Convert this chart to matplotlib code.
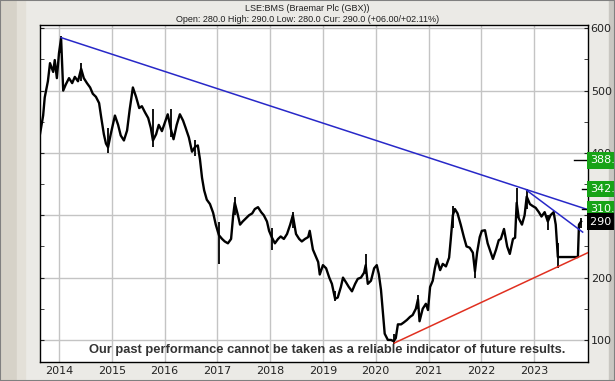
import numpy as np
import matplotlib
matplotlib.use("Agg")
from matplotlib import pyplot as plt
from matplotlib.patches import Rectangle
import matplotlib.transforms as mtransforms

# price path (decimal year, close in GBX)
dates = [2013.64, 2013.70, 2013.73, 2013.79, 2013.83, 2013.89, 2013.92, 2013.96, 2014.00, 2014.04,
         2014.06, 2014.08, 2014.13, 2014.19, 2014.25, 2014.30, 2014.36, 2014.42, 2014.47, 2014.53,
         2014.59, 2014.64, 2014.70, 2014.76, 2014.80, 2014.85, 2014.89, 2014.93, 2014.98, 2015.06,
         2015.12, 2015.17, 2015.23, 2015.29, 2015.34, 2015.40, 2015.46, 2015.52, 2015.57, 2015.63,
         2015.69, 2015.74, 2015.78, 2015.84, 2015.89, 2015.95, 2016.01, 2016.06, 2016.12, 2016.17,
         2016.23, 2016.29, 2016.35, 2016.40, 2016.46, 2016.52, 2016.58, 2016.63, 2016.67, 2016.71,
         2016.75, 2016.80, 2016.86, 2016.92, 2016.97, 2017.03, 2017.09, 2017.14, 2017.20, 2017.26,
         2017.30, 2017.33, 2017.39, 2017.43, 2017.48, 2017.54, 2017.60, 2017.66, 2017.71, 2017.77,
         2017.83, 2017.88, 2017.94, 2017.98, 2018.03, 2018.09, 2018.15, 2018.20, 2018.26, 2018.32,
         2018.38, 2018.43, 2018.49, 2018.55, 2018.60, 2018.66, 2018.72, 2018.75, 2018.81, 2018.87,
         2018.91, 2018.94, 2019.00, 2019.06, 2019.12, 2019.17, 2019.23, 2019.28, 2019.34, 2019.38,
         2019.44, 2019.49, 2019.55, 2019.61, 2019.66, 2019.72, 2019.78, 2019.81, 2019.85, 2019.91,
         2019.97, 2020.02, 2020.06, 2020.10, 2020.14, 2020.17, 2020.23, 2020.29, 2020.34, 2020.38,
         2020.42, 2020.48, 2020.53, 2020.59, 2020.65, 2020.70, 2020.76, 2020.80, 2020.83, 2020.89,
         2020.95, 2020.99, 2021.03, 2021.08, 2021.12, 2021.16, 2021.22, 2021.27, 2021.33, 2021.39,
         2021.42, 2021.46, 2021.50, 2021.55, 2021.61, 2021.67, 2021.72, 2021.78, 2021.84, 2021.88,
         2021.92, 2021.97, 2022.01, 2022.07, 2022.12, 2022.18, 2022.22, 2022.28, 2022.33, 2022.37,
         2022.43, 2022.49, 2022.54, 2022.60, 2022.64, 2022.67, 2022.71, 2022.77, 2022.82, 2022.86,
         2022.92, 2022.97, 2023.03, 2023.09, 2023.14, 2023.20, 2023.26, 2023.31, 2023.37, 2023.41,
         2023.45, 2023.83, 2023.85, 2023.89]
closes = [430, 460, 489, 515, 544, 530, 549, 520, 560, 584,
          540, 500, 510, 520, 512, 522, 515, 535, 520, 512,
          505, 495, 490, 480, 457, 430, 415, 409, 430, 460,
          445, 428, 420, 436, 470, 505, 490, 472, 475, 465,
          456, 440, 420, 430, 445, 435, 450, 462, 438, 422,
          445, 462, 452, 440, 425, 402, 410, 412, 390, 360,
          340, 325, 318, 304, 285, 268, 262, 258, 255, 262,
          300, 320, 300, 285, 290, 295, 300, 303, 310, 313,
          305, 300, 290, 275, 265, 255, 262, 266, 262, 270,
          285, 300, 270, 262, 258, 262, 265, 275, 245, 233,
          225, 205, 220, 215, 200, 190, 166, 168, 185, 200,
          192, 185, 178, 190, 198, 200, 208, 220, 190, 195,
          215, 220, 205, 180, 140, 110, 100, 100, 98, 103,
          125, 125, 128, 132, 137, 140, 150, 165, 130, 150,
          158, 148, 185, 195, 215, 230, 212, 222, 218, 232,
          260, 300, 310, 303, 285, 265, 250, 248, 240, 210,
          240, 265, 275, 276, 255, 240, 230, 245, 260, 262,
          278, 250, 238, 262, 264, 320, 295, 285, 300, 330,
          318, 315, 312, 305, 298, 305, 290, 300, 305, 285,
          233, 233, 285, 290]

# intraday extremes that stick out of the line
spike_dates = [2014.04, 2014.42, 2014.93, 2015.78, 2016.12, 2016.58, 2017.03, 2017.33, 2018.03,
               2018.43, 2019.23, 2019.81, 2020.34, 2020.80, 2021.46, 2021.88, 2022.67, 2022.86,
               2023.26, 2023.45, 2023.89]
spike_lo = [560, 515, 400, 410, 425, 395, 222, 300, 245, 280, 162, 205, 93, 150, 280, 199, 295, 310,
            276, 216, 280]
spike_hi = [588, 545, 440, 470, 470, 420, 290, 330, 280, 305, 178, 238, 110, 172, 315, 225, 343, 342,
            300, 255, 295]

# trend lines (start/end year and price)
blue_long = ([2014.04, 2024.02], [585, 309])
blue_short = ([2022.86, 2023.92], [340, 273])
red_line = ([2020.35, 2024.02], [95, 240])

levels = [388.1, 342.4, 310.3]
level_txt = ["388.1", "342.4", "310.3"]
cur_price = 290
years = [2014, 2015, 2016, 2017, 2018, 2019, 2020, 2021, 2022, 2023]

fig = plt.figure(figsize=(6.15, 3.81), dpi=100)
fig.patch.set_facecolor("#ebeae6")
# bevelled frame
fig.patches.append(Rectangle((0, 0), 0.028, 1, transform=fig.transFigure, color="#d6d2c8", zorder=-2))
fig.patches.append(Rectangle((0.028, 0), 0.012, 1, transform=fig.transFigure, color="#e3e0d8", zorder=-2))
fig.patches.append(Rectangle((0.99, 0), 0.01, 1, transform=fig.transFigure, color="#c9c7c2", zorder=-2))
fig.patches.append(Rectangle((0, 0), 1, 1, transform=fig.transFigure, fill=False,
                             edgecolor="#808080", lw=1.5, zorder=5))

ax = fig.add_axes([0.065, 0.05, 0.891, 0.884])
ax.set_facecolor("white")
ax.set_xlim(2013.64, 2024.02)
ax.set_ylim(64.7, 605)

ax.set_xticks(years)
ax.set_xticklabels([str(y) for y in years])
ax.set_yticks([100, 200, 300, 400, 500, 600])
ax.set_yticks(np.arange(100, 601, 50), minor=True)
ax.grid(True, color="#c4c4c4", lw=1)
ax.set_axisbelow(True)
ax.tick_params(axis="x", length=0, labelsize=8, pad=3, colors="#222222")
ax.tick_params(axis="y", which="both", left=True, right=True, labelleft=False, labelright=True,
               direction="in", length=3, labelsize=8, pad=2, colors="#222222")
for s in ax.spines.values():
    s.set_color("black")
    s.set_linewidth(1)

# price
ax.vlines(spike_dates, spike_lo, spike_hi, color="black", lw=1.3, zorder=3)
ax.plot(dates, closes, color="black", lw=1.7, zorder=3)

ax.plot(*blue_long, color="#2828c8", lw=1.1, zorder=4)
ax.plot(*blue_short, color="#2828c8", lw=1.1, zorder=4)
ax.plot(*red_line, color="#e03020", lw=1.1, zorder=4)

# level markers on the right edge
trans = mtransforms.blended_transform_factory(ax.transAxes, ax.transData)
ax.plot([0.975, 1.0], [levels[0], levels[0]], color="black", lw=1, transform=trans, clip_on=False, zorder=5)
for lv in levels[1:]:
    ax.plot([0.99, 0.996], [lv, lv], color="black", lw=1, transform=trans, clip_on=False, zorder=5)
for lv, t in zip(levels, level_txt):
    ax.text(1.004, lv, t, transform=trans, ha="left", va="center", fontsize=8, color="white",
            bbox=dict(boxstyle="square,pad=0.3", fc="#17a317", ec="none"), zorder=6, clip_on=False)
ax.text(1.004, cur_price, str(cur_price) + "    ", transform=trans, ha="left", va="center", fontsize=8,
        color="white", bbox=dict(boxstyle="square,pad=0.3", fc="black", ec="none"), zorder=6, clip_on=False)

fig.text(0.5, 0.978, "LSE:BMS (Braemar Plc (GBX))", ha="center", va="center", fontsize=6.5,
         color="#202020", family="Liberation Sans")
fig.text(0.5, 0.948, "Open: 280.0 High: 290.0 Low: 280.0 Cur: 290.0 (+06.00/+02.11%)", ha="center",
         va="center", fontsize=6.5, color="#202020", family="Liberation Sans")
fig.text(0.532, 0.081, "Our past performance cannot be taken as a reliable indicator of future results.",
         ha="center", va="center", fontsize=9.3, fontweight="bold", color="#333333",
         family="Liberation Sans")

fig.savefig("out.png", dpi=100, facecolor=fig.get_facecolor())
